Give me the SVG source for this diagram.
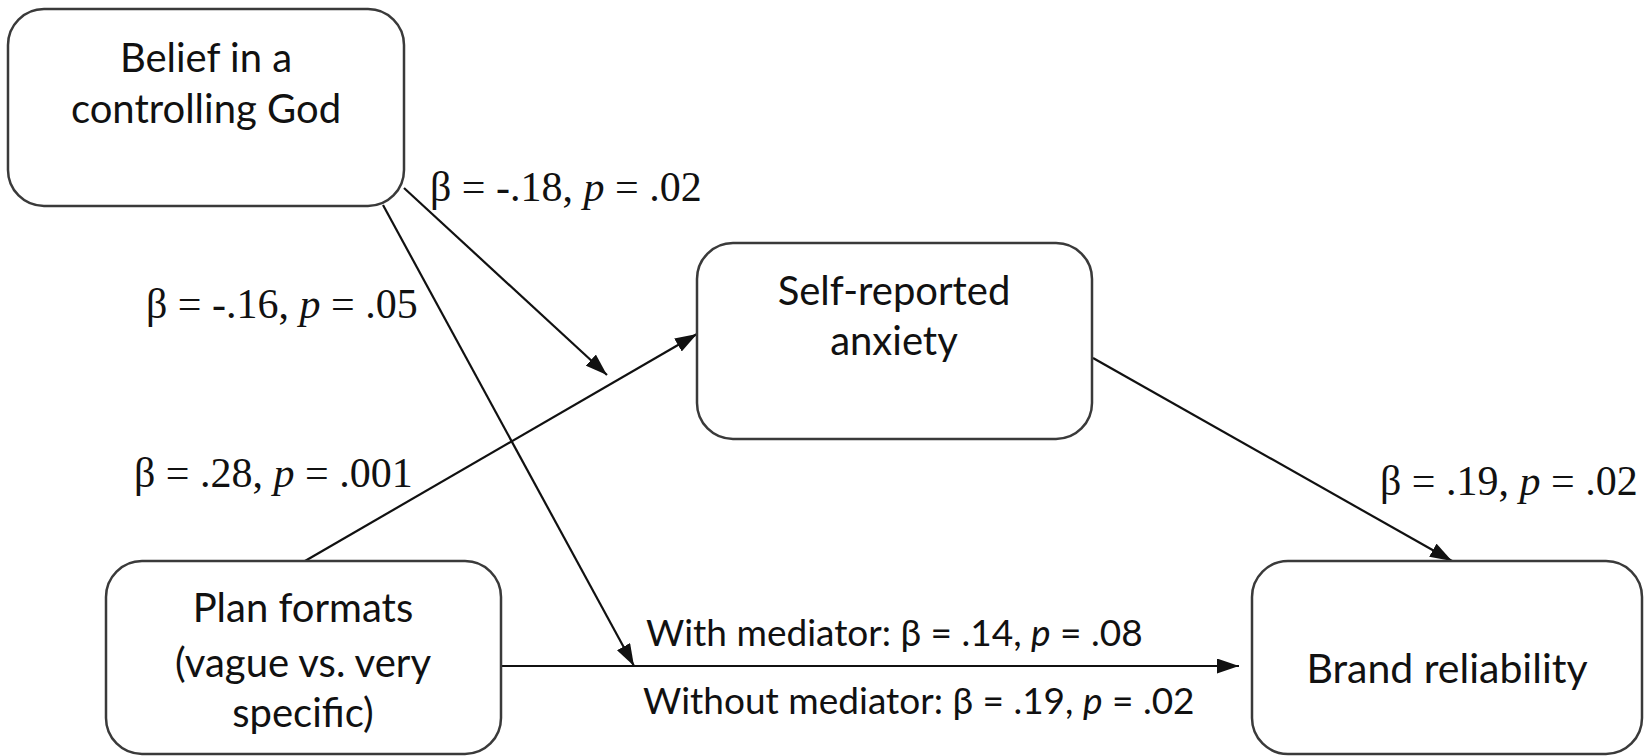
<svg xmlns="http://www.w3.org/2000/svg" width="1646" height="756" viewBox="0 0 1646 756">
<style>
.box{fill:#fff;stroke:#3a3a3a;stroke-width:2.5}
.nt{font-family:Lato,"Open Sans",sans-serif;font-size:40px;fill:#111;text-anchor:middle}
.lbl{font-family:"Liberation Serif","Times New Roman",serif;font-size:42px;fill:#111}
.lbs{font-family:Lato,"Open Sans",sans-serif;font-size:37px;fill:#111}
.it{font-style:italic}
.edge{stroke:#111;stroke-width:2.2;fill:none;marker-end:url(#ah)}
</style>
<defs>
<marker id="ah" viewBox="0 0 22 15" refX="22" refY="7.5" markerWidth="22" markerHeight="15" markerUnits="userSpaceOnUse" orient="auto">
<path d="M0,0 L22,7.5 L0,15 z" fill="#111"/>
</marker>
</defs>
<rect width="1646" height="756" fill="#fff"/>
<g id="connectors">
<line class="edge" x1="404" y1="188" x2="607" y2="375"/>
<line class="edge" x1="383" y1="205" x2="634" y2="666"/>
<line class="edge" x1="305" y1="561" x2="697" y2="334"/>
<line class="edge" x1="1093" y1="358" x2="1452" y2="561"/>
<line class="edge" x1="501" y1="666" x2="1239" y2="666"/>
</g>
<g id="node-belief">
<rect class="box" x="8" y="9" width="396" height="197" rx="36"/>
<text class="nt" x="206" y="72">Belief in a</text>
<text class="nt" x="206" y="123">controlling God</text>
</g>
<g id="node-anxiety">
<rect class="box" x="697" y="243" width="395" height="196" rx="36"/>
<text class="nt" x="894" y="305">Self-reported</text>
<text class="nt" x="894" y="355">anxiety</text>
</g>
<g id="node-plan">
<rect class="box" x="106" y="561" width="395" height="193" rx="36"/>
<text class="nt" x="303" y="622">Plan formats</text>
<text class="nt" x="303" y="677">(vague vs. very</text>
<text class="nt" x="303" y="727">specific)</text>
</g>
<g id="node-brand">
<rect class="box" x="1252" y="561" width="390" height="193" rx="36"/>
<text class="nt" x="1447" y="683" style="font-size:41px">Brand reliability</text>
</g>
<g id="labels">
<text class="lbl" x="430" y="201">β = -.18, <tspan class="it">p</tspan> = .02</text>
<text class="lbl" x="146" y="318">β = -.16, <tspan class="it">p</tspan> = .05</text>
<text class="lbl" x="134" y="487">β = .28, <tspan class="it">p</tspan> = .001</text>
<text class="lbl" x="1380" y="495">β = .19, <tspan class="it">p</tspan> = .02</text>
<text class="lbs" x="646" y="646">With mediator: β = .14, <tspan class="it">p</tspan> = .08</text>
<text class="lbs" x="643" y="714">Without mediator: β = .19, <tspan class="it">p</tspan> = .02</text>
</g>
</svg>
